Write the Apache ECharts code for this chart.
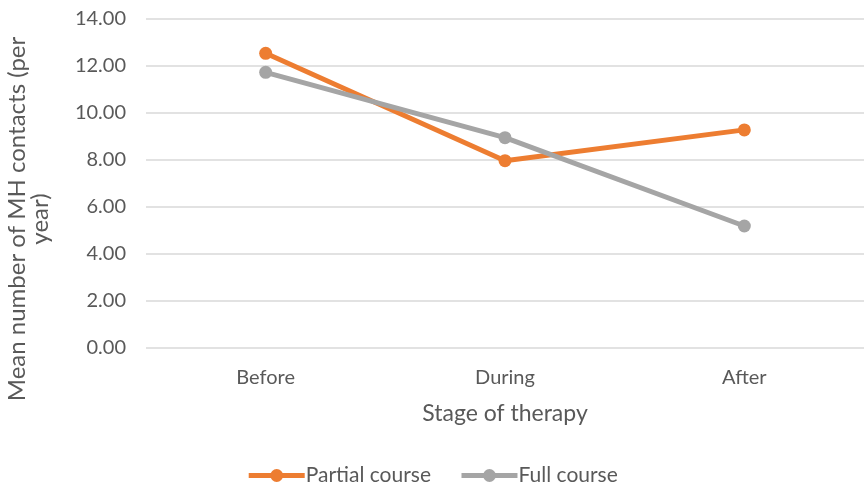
<!DOCTYPE html>
<html>
<head>
<meta charset="utf-8">
<script src="https://cdn.jsdelivr.net/npm/echarts@6/dist/echarts.min.js"></script>
<style>
  html, body { margin: 0; padding: 0; background: #fff; }
  #chart { width: 864px; height: 491px; }
</style>
</head>
<body>
<div id="chart"></div>
<script>
// Mean number of mental-health contacts per year, by stage of therapy
const stages = ['Before', 'During', 'After'];
const partialCourse = [12.52, 7.95, 9.26];
const fullCourse = [11.71, 8.93, 5.17];
const yTicks = { min: 0, max: 14, interval: 2 };

const FONT = 'Lato';
const TEXT = '#595959';

const chart = echarts.init(document.getElementById('chart'), null, { renderer: 'canvas' });

chart.setOption({
  animation: false,
  grid: { left: 146, right: -6, top: 18.5, bottom: 143.5, containLabel: false },
  xAxis: {
    type: 'category',
    data: stages,
    boundaryGap: true,
    axisLine: { show: false },
    axisTick: { show: false },
    axisLabel: { color: TEXT, fontFamily: FONT, fontSize: 20, margin: 20 },
    name: 'Stage of therapy',
    nameLocation: 'middle',
    nameGap: 55,
    nameTextStyle: { color: TEXT, fontFamily: FONT, fontSize: 23 }
  },
  yAxis: {
    type: 'value',
    min: yTicks.min,
    max: yTicks.max,
    interval: yTicks.interval,
    axisLine: { show: false },
    axisTick: { show: false },
    splitLine: { lineStyle: { color: '#d9d9d9', width: 1.5 } },
    axisLabel: {
      color: TEXT, fontFamily: FONT, fontSize: 20, margin: 20,
      formatter: v => v.toFixed(2)
    }
  },
  legend: {
    bottom: 0,
    left: 'center',
    itemWidth: 56,
    itemHeight: 16,
    itemGap: 28,
    lineStyle: { width: 5 },
    textStyle: { color: TEXT, fontFamily: FONT, fontSize: 21, padding: [0, 0, 0, -4] },
    data: ['Partial course', 'Full course']
  },
  graphic: [{
    type: 'text',
    x: 29,
    y: 219,
    rotation: Math.PI / 2,
    style: {
      text: 'Mean number of MH contacts (per\nyear)',
      fill: TEXT,
      font: '24px ' + FONT,
      align: 'center',
      verticalAlign: 'middle',
      lineHeight: 23
    }
  }],
  series: [
    {
      name: 'Partial course',
      type: 'line',
      data: partialCourse,
      color: '#ED7D31',
      symbol: 'circle',
      symbolSize: 13,
      lineStyle: { width: 5 }
    },
    {
      name: 'Full course',
      type: 'line',
      data: fullCourse,
      color: '#A5A5A5',
      symbol: 'circle',
      symbolSize: 13,
      lineStyle: { width: 5 }
    }
  ]
});
</script>
</body>
</html>
